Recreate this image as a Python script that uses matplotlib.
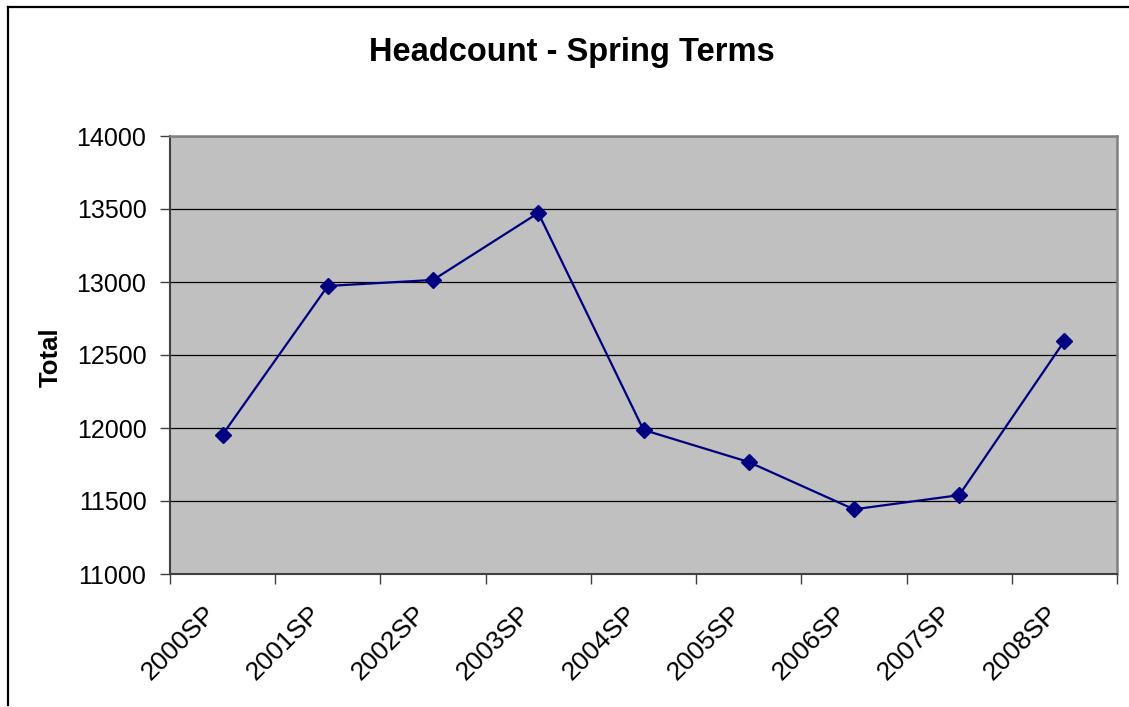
import matplotlib as mpl
mpl.use('Agg')
import matplotlib.pyplot as plt
import matplotlib.transforms as mtransforms
from matplotlib.lines import Line2D

terms = ['2000SP', '2001SP', '2002SP', '2003SP', '2004SP',
         '2005SP', '2006SP', '2007SP', '2008SP']
totals = [11955, 12973, 13014, 13473, 11987, 11767, 11443, 11540, 12596]
yticks = [11000, 11500, 12000, 12500, 13000, 13500, 14000]

plt.rcParams['font.family'] = ['Liberation Sans', 'DejaVu Sans']

W, H = 1129, 707
fig = plt.figure(figsize=(W / 100, H / 100), dpi=100)
ax = fig.add_axes([170 / W, 1 - 574 / H, 947 / W, 438 / H])
ax.set_facecolor('#c0c0c0')

# outer chart frame (left and top edge visible)
fig.add_artist(Line2D([8 / W, 8 / W], [1 - 6.5 / H, 1 - 705 / H], transform=fig.transFigure,
                      color='black', lw=1.6))
fig.add_artist(Line2D([8 / W, 1.0], [1 - 6.5 / H, 1 - 6.5 / H], transform=fig.transFigure,
                      color='black', lw=1.6))

x = list(range(len(terms)))
ax.plot(x, totals, color='#000080', lw=1.6, marker='D', markersize=8.5, zorder=3)

ax.set_xlim(-0.5, len(terms) - 0.5)
ax.set_ylim(11000, 14000)
ax.set_yticks(yticks)
ax.set_yticklabels([str(v) for v in yticks])
ax.yaxis.grid(True, color='black', lw=0.9)
ax.set_axisbelow(True)

ax.set_xticks(x)
ax.set_xticklabels(terms, rotation=45, ha='right', va='center', rotation_mode='anchor')
ax.set_xticks([i - 0.5 for i in range(len(terms) + 1)], minor=True)
ax.tick_params(axis='x', which='major', length=0, pad=26, labelsize=19)
ax.tick_params(axis='x', which='minor', length=7, width=1, color='#404040')
ax.tick_params(axis='y', length=7, width=1, pad=10, labelsize=18, color='#404040')
offset = mtransforms.ScaledTranslation(-11 / 100, 0, fig.dpi_scale_trans)
for lbl in ax.get_xticklabels():
    lbl.set_transform(lbl.get_transform() + offset)

for s in ['left', 'bottom']:
    ax.spines[s].set_color('#404040')
    ax.spines[s].set_linewidth(1.5)
for s in ['top', 'right']:
    ax.spines[s].set_color('#808080')
    ax.spines[s].set_linewidth(1.8)

ax.set_ylabel('Total', fontsize=18.5, fontweight='bold', va='center')
ax.yaxis.set_label_coords(-(170 - 51) / 947, 0.495)
fig.text(572 / W, 1 - 52 / H, 'Headcount - Spring Terms', fontsize=23.5, fontweight='bold',
         ha='center', va='center')

fig.savefig('out.png', dpi=100)
plt.close()
